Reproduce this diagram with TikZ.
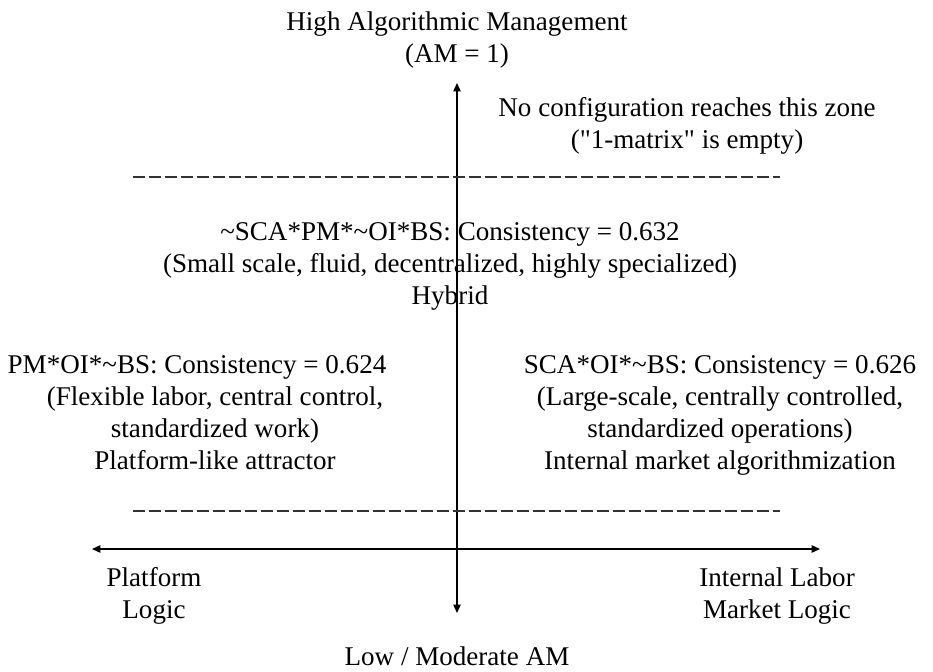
\documentclass[tikz,border=0pt]{standalone}
\usepackage{fontspec}
\setmainfont{Liberation Serif}
\usepackage{tikz}
\usetikzlibrary{arrows.meta}

\begin{document}
\begin{tikzpicture}[
  x=0.02cm, y=-0.02cm,
  lbl/.style  = {align=center, inner sep=0pt, font={\fontsize{15.4}{18.2}\selectfont}},
  axis/.style = {{Triangle[length=0.17cm, width=0.15cm]}-{Triangle[length=0.17cm, width=0.15cm]},
                 line width=0.8pt},
  sep/.style  = {line width=1pt, dash pattern=on 0.24cm off 0.08cm, draw=black!80},
]
\useasboundingbox (0,0) rectangle (933,672);

% ── Axes ─────────────────────────────────────────────────────────────────────
\coordinate (top)  at (457,83);
\coordinate (bot)  at (457,613);
\coordinate (west) at (92,549);
\coordinate (east) at (820,549);
\draw[axis] (bot) -- (top);
\draw[axis] (west) -- (east);

% ── Zone separators ──────────────────────────────────────────────────────────
\coordinate (sepAl) at (133,177);
\coordinate (sepAr) at (780,177);
\coordinate (sepBl) at (133,511);
\coordinate (sepBr) at (780,511);
\draw[sep] (sepAl) -- (sepAr);
\draw[sep] (sepBl) -- (sepBr);

% ── Axis ends ────────────────────────────────────────────────────────────────
\node[lbl] (amhi) at (457,40)  {High Algorithmic Management\\(AM = 1)};
\node[lbl] (amlo) at (457,656) {Low / Moderate AM};
\node[lbl] (platlogic) at (154,596) {Platform\\Logic};
\node[lbl] (ilmlogic)  at (777,596) {Internal Labor\\Market Logic};

% ── Configurations ───────────────────────────────────────────────────────────
\node[lbl] (empty) at (687,126)
  {No configuration reaches this zone\\(\textquotedbl 1-matrix\textquotedbl{} is empty)};
\node[lbl] (hybrid) at (450,266)
  {\textasciitilde SCA*PM*\textasciitilde OI*BS: Consistency = 0.632\\
   (Small scale, fluid, decentralized, highly specialized)\\Hybrid};
\node[lbl] (plathead) at (197,367) {PM*OI*\textasciitilde BS: Consistency = 0.624};
\node[lbl] (plat) at (215,428)
  {(Flexible labor, central control,\\standardized work)\\Platform-like attractor};
\node[lbl] (ilm) at (720,415)
  {SCA*OI*\textasciitilde BS: Consistency = 0.626\\(Large-scale, centrally controlled,\\
   standardized operations)\\Internal market algorithmization};
\end{tikzpicture}
\end{document}
